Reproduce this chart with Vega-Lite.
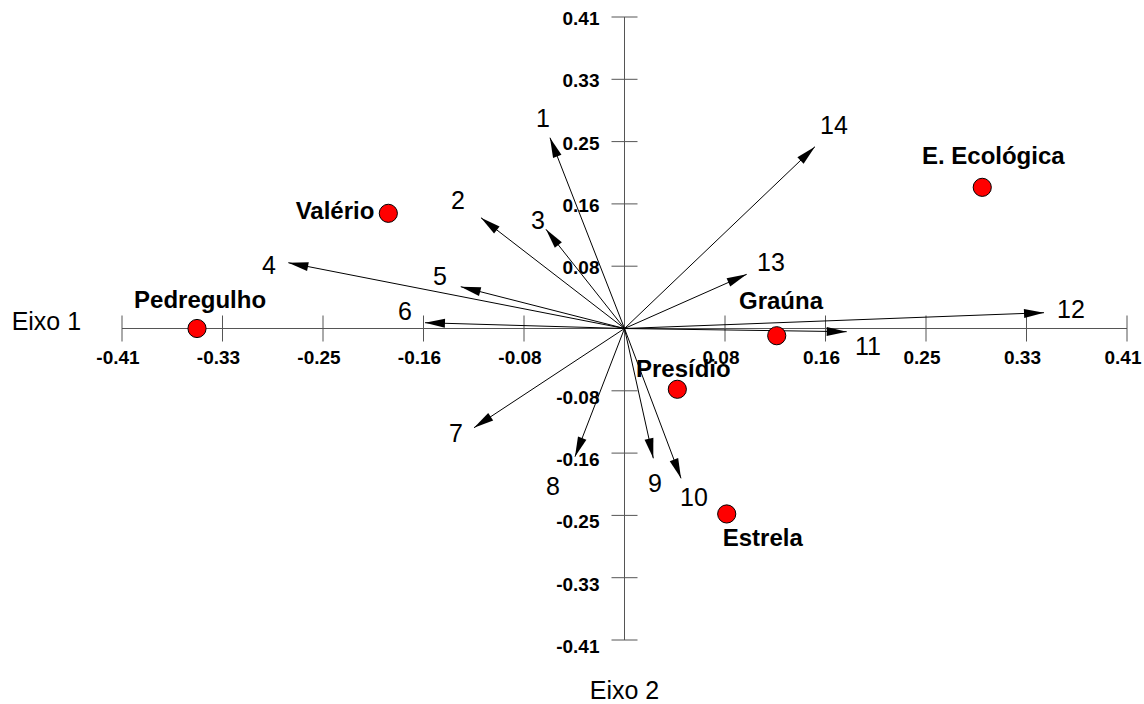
{
  "$schema": "https://vega.github.io/schema/vega-lite/v6.json",
  "width": 1005,
  "height": 623,
  "autosize": {"type": "none"},
  "padding": {"left": 122, "top": 17, "right": 17, "bottom": 64},
  "background": "white",
  "config": {"view": {"stroke": null}, "font": "Liberation Sans"},
  "datasets": {
    "ticks": [
      {"v": -0.41, "label": "-0.41"}, {"v": -0.328, "label": "-0.33"}, {"v": -0.246, "label": "-0.25"},
      {"v": -0.164, "label": "-0.16"}, {"v": -0.082, "label": "-0.08"}, {"v": 0.082, "label": "0.08"},
      {"v": 0.164, "label": "0.16"}, {"v": 0.246, "label": "0.25"}, {"v": 0.328, "label": "0.33"},
      {"v": 0.41, "label": "0.41"}
    ],
    "axes": [
      {"x1": -0.41, "x2": 0.41, "y1": 0, "y2": 0},
      {"x1": 0, "x2": 0, "y1": -0.41, "y2": 0.41}
    ],
    "vars": [
      {"id": "1", "x": -0.0608, "y": 0.2511, "lx": -0.0665, "ly": 0.2757},
      {"id": "2", "x": -0.1171, "y": 0.1458, "lx": -0.1359, "ly": 0.1678},
      {"id": "3", "x": -0.0641, "y": 0.1306, "lx": -0.0706, "ly": 0.1415},
      {"id": "4", "x": -0.2743, "y": 0.0866, "lx": -0.29, "ly": 0.0823},
      {"id": "5", "x": -0.1336, "y": 0.055, "lx": -0.1505, "ly": 0.0678},
      {"id": "6", "x": -0.1628, "y": 0.0076, "lx": -0.1791, "ly": 0.0217},
      {"id": "7", "x": -0.1228, "y": -0.1306, "lx": -0.1375, "ly": -0.1389},
      {"id": "8", "x": -0.0404, "y": -0.1687, "lx": -0.0583, "ly": -0.2086},
      {"id": "9", "x": 0.0235, "y": -0.1708, "lx": 0.0249, "ly": -0.2046},
      {"id": "10", "x": 0.0461, "y": -0.1972, "lx": 0.0567, "ly": -0.2231},
      {"id": "11", "x": 0.1813, "y": -0.0042, "lx": 0.1987, "ly": -0.0243},
      {"id": "12", "x": 0.3423, "y": 0.0208, "lx": 0.3643, "ly": 0.0243},
      {"id": "13", "x": 0.0997, "y": 0.0713, "lx": 0.1195, "ly": 0.0862},
      {"id": "14", "x": 0.1554, "y": 0.2393, "lx": 0.1709, "ly": 0.2665}
    ],
    "sites": [
      {"name": "Pedregulho", "x": -0.3488, "y": 0.0, "lx": -0.3463, "ly": 0.0362},
      {"name": "Valério", "x": -0.1927, "y": 0.1516, "lx": -0.2362, "ly": 0.1537},
      {"name": "E. Ecológica", "x": 0.2919, "y": 0.1858, "lx": 0.3009, "ly": 0.2253},
      {"name": "Graúna", "x": 0.1242, "y": -0.0095, "lx": 0.1277, "ly": 0.0353},
      {"name": "Presídio", "x": 0.0431, "y": -0.08, "lx": 0.048, "ly": -0.0546},
      {"name": "Estrela", "x": 0.0834, "y": -0.2441, "lx": 0.1128, "ly": -0.2774}
    ],
    "titles": [
      {"t": "Eixo 1", "x": -0.4717, "y": 0.0092},
      {"t": "Eixo 2", "x": 0.0, "y": -0.4765}
    ]
  },
  "layer": [
    {
      "data": {"name": "axes"},
      "mark": {"type": "rule", "color": "#555555", "strokeWidth": 1},
      "encoding": {
        "x": {"field": "x1", "type": "quantitative", "scale": {"domain": [-0.41, 0.41], "nice": false, "zero": false}, "axis": null},
        "x2": {"field": "x2"},
        "y": {"field": "y1", "type": "quantitative", "scale": {"domain": [-0.41, 0.41], "nice": false, "zero": false}, "axis": null},
        "y2": {"field": "y2"}
      }
    },
    {
      "data": {"name": "ticks"},
      "mark": {"type": "point", "shape": "M0,-1L0,1", "size": 676, "stroke": "#555555", "strokeWidth": 1, "filled": false, "opacity": 1},
      "encoding": {
        "x": {"field": "v", "type": "quantitative", "scale": {"domain": [-0.41, 0.41], "nice": false, "zero": false}, "axis": null},
        "y": {"datum": 0, "type": "quantitative", "scale": {"domain": [-0.41, 0.41], "nice": false, "zero": false}, "axis": null}
      }
    },
    {
      "data": {"name": "ticks"},
      "mark": {"type": "point", "shape": "M-1,0L1,0", "size": 676, "stroke": "#555555", "strokeWidth": 1, "filled": false, "opacity": 1},
      "encoding": {
        "y": {"field": "v", "type": "quantitative", "scale": {"domain": [-0.41, 0.41], "nice": false, "zero": false}, "axis": null},
        "x": {"datum": 0, "type": "quantitative", "scale": {"domain": [-0.41, 0.41], "nice": false, "zero": false}, "axis": null}
      }
    },
    {
      "data": {"name": "ticks"},
      "mark": {"type": "text", "fontSize": 19, "fontWeight": "bold", "align": "center", "baseline": "top", "dy": 20, "dx": -4, "color": "black"},
      "encoding": {
        "x": {"field": "v", "type": "quantitative", "scale": {"domain": [-0.41, 0.41], "nice": false, "zero": false}, "axis": null},
        "y": {"datum": 0, "type": "quantitative", "scale": {"domain": [-0.41, 0.41], "nice": false, "zero": false}, "axis": null},
        "text": {"field": "label"}
      }
    },
    {
      "data": {"name": "ticks"},
      "transform": [{"filter": "datum.v > 0"}],
      "mark": {"type": "text", "fontSize": 19, "fontWeight": "bold", "align": "right", "baseline": "middle", "dx": -25, "dy": 2, "color": "black"},
      "encoding": {
        "y": {"field": "v", "type": "quantitative", "scale": {"domain": [-0.41, 0.41], "nice": false, "zero": false}, "axis": null},
        "x": {"datum": 0, "type": "quantitative", "scale": {"domain": [-0.41, 0.41], "nice": false, "zero": false}, "axis": null},
        "text": {"field": "label"}
      }
    },
    {
      "data": {"name": "ticks"},
      "transform": [{"filter": "datum.v < 0"}],
      "mark": {"type": "text", "fontSize": 19, "fontWeight": "bold", "align": "right", "baseline": "middle", "dx": -25, "dy": 7, "color": "black"},
      "encoding": {
        "y": {"field": "v", "type": "quantitative", "scale": {"domain": [-0.41, 0.41], "nice": false, "zero": false}, "axis": null},
        "x": {"datum": 0, "type": "quantitative", "scale": {"domain": [-0.41, 0.41], "nice": false, "zero": false}, "axis": null},
        "text": {"field": "label"}
      }
    },
    {
      "data": {"name": "vars"},
      "mark": {"type": "rule", "color": "black", "strokeWidth": 1},
      "encoding": {
        "x": {"field": "x", "type": "quantitative", "scale": {"domain": [-0.41, 0.41], "nice": false, "zero": false}, "axis": null},
        "x2": {"datum": 0},
        "y": {"field": "y", "type": "quantitative", "scale": {"domain": [-0.41, 0.41], "nice": false, "zero": false}, "axis": null},
        "y2": {"datum": 0}
      }
    },
    {
      "data": {"name": "vars"},
      "transform": [{"calculate": "atan2(-datum.y * 759.76, datum.x * 1225.6) * 180 / PI", "as": "ang"}],
      "mark": {"type": "point", "shape": "M0,0L-2,-0.45L-2,0.45Z", "size": 400, "filled": true, "color": "black", "opacity": 1, "strokeWidth": 0},
      "encoding": {
        "x": {"field": "x", "type": "quantitative", "scale": {"domain": [-0.41, 0.41], "nice": false, "zero": false}, "axis": null},
        "y": {"field": "y", "type": "quantitative", "scale": {"domain": [-0.41, 0.41], "nice": false, "zero": false}, "axis": null},
        "angle": {"field": "ang", "type": "quantitative", "scale": null}
      }
    },
    {
      "data": {"name": "vars"},
      "mark": {"type": "text", "fontSize": 25, "align": "center", "baseline": "middle", "color": "black"},
      "encoding": {
        "x": {"field": "lx", "type": "quantitative", "scale": {"domain": [-0.41, 0.41], "nice": false, "zero": false}, "axis": null},
        "y": {"field": "ly", "type": "quantitative", "scale": {"domain": [-0.41, 0.41], "nice": false, "zero": false}, "axis": null},
        "text": {"field": "id"}
      }
    },
    {
      "data": {"name": "sites"},
      "mark": {"type": "circle", "size": 330, "fill": "#ff0000", "stroke": "black", "strokeWidth": 1, "opacity": 1},
      "encoding": {
        "x": {"field": "x", "type": "quantitative", "scale": {"domain": [-0.41, 0.41], "nice": false, "zero": false}, "axis": null},
        "y": {"field": "y", "type": "quantitative", "scale": {"domain": [-0.41, 0.41], "nice": false, "zero": false}, "axis": null}
      }
    },
    {
      "data": {"name": "sites"},
      "mark": {"type": "text", "fontSize": 24, "fontWeight": "bold", "align": "center", "baseline": "middle", "color": "black"},
      "encoding": {
        "x": {"field": "lx", "type": "quantitative", "scale": {"domain": [-0.41, 0.41], "nice": false, "zero": false}, "axis": null},
        "y": {"field": "ly", "type": "quantitative", "scale": {"domain": [-0.41, 0.41], "nice": false, "zero": false}, "axis": null},
        "text": {"field": "name"}
      }
    },
    {
      "data": {"name": "titles"},
      "mark": {"type": "text", "fontSize": 25, "align": "center", "baseline": "middle", "color": "black"},
      "encoding": {
        "x": {"field": "x", "type": "quantitative", "scale": {"domain": [-0.41, 0.41], "nice": false, "zero": false}, "axis": null},
        "y": {"field": "y", "type": "quantitative", "scale": {"domain": [-0.41, 0.41], "nice": false, "zero": false}, "axis": null},
        "text": {"field": "t"}
      }
    }
  ]
}
